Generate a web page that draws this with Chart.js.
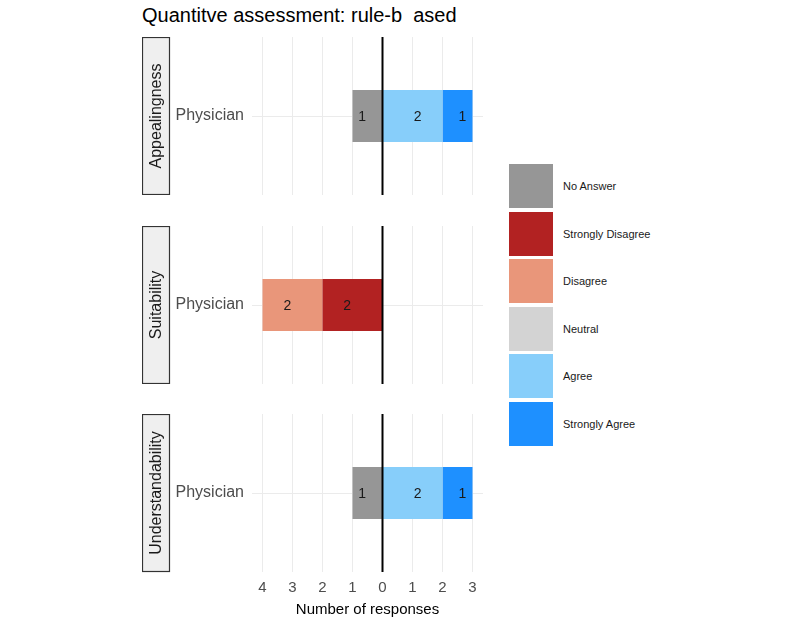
<!DOCTYPE html>
<html>
<head>
<meta charset="utf-8">
<script src="https://cdn.jsdelivr.net/npm/chart.js@4"></script>
<style>
  body { margin: 0; background: #fff; font-family: "Liberation Sans", Arial, sans-serif; }
  #wrap { position: relative; width: 800px; height: 623px; }
  #title { position: absolute; left: 142px; top: 4px; font-size: 20px; color: #000; white-space: pre; }
  canvas { position: absolute; }
  .lg-box { position: absolute; left: 509px; width: 44px; height: 44px; }
  .lg-txt { position: absolute; left: 563px; font-size: 11px; color: #1a1a1a; line-height: 12px; }
</style>
</head>
<body>
<div id="wrap">
  <div id="title">Quantitve assessment: rule-b  ased</div>
  <canvas id="c1"></canvas>
  <canvas id="c2"></canvas>
  <canvas id="c3"></canvas>
</div>
<script>
const facets = ["Appealingness", "Suitability", "Understandability"];
const groups = ["Physician"];
const responses = ["No Answer", "Strongly Disagree", "Disagree", "Neutral", "Agree", "Strongly Agree"];
const colors = ["#969696", "#B22222", "#E9967A", "#D3D3D3", "#87CEFA", "#1E90FF"];
// negative values are drawn left of zero
const appealing = [-1, 0, 0, 0, 2, 1];
const suitability = [0, -2, -2, 0, 0, 0];
const understand = [-1, 0, 0, 0, 2, 1];
const xTicks = [-4, -3, -2, -1, 0, 1, 2, 3];
const facetValues = [appealing, suitability, understand];

// legend
responses.forEach((r, i) => {
  const top = 164 + i * 47.5;
  const b = document.createElement('div');
  b.className = 'lg-box';
  b.style.top = top + 'px';
  b.style.background = colors[i];
  document.getElementById('wrap').appendChild(b);
  const t = document.createElement('div');
  t.className = 'lg-txt';
  t.style.top = (top + 16) + 'px';
  t.textContent = r;
  document.getElementById('wrap').appendChild(t);
});

const panelTops = [37, 226, 414];
const panelH = 158;

const facetPlugin = {
  id: 'facet',
  afterDatasetsDraw(chart, args, opts) {
    const ctx = chart.ctx;
    const area = chart.chartArea;
    const x0 = chart.scales.x.getPixelForValue(0);
    ctx.save();
    // labels in bars
    chart.data.datasets.forEach((ds, i) => {
      const meta = chart.getDatasetMeta(i);
      meta.data.forEach((bar, j) => {
        const v = ds.data[j];
        if (!v) return;
        ctx.fillStyle = '#1a1a1a';
        ctx.font = '14px "Liberation Sans", Arial';
        ctx.textAlign = 'center';
        ctx.textBaseline = 'middle';
        ctx.fillText(Math.abs(v), (bar.x + bar.base) / 2 + Math.sign(v) * 5, bar.y + 1);
      });
    });
    // zero line
    ctx.strokeStyle = '#000';
    ctx.lineWidth = 2;
    ctx.beginPath();
    ctx.moveTo(x0, area.top);
    ctx.lineTo(x0, area.bottom);
    ctx.stroke();
    // strip
    ctx.fillStyle = '#efefef';
    ctx.strokeStyle = '#333';
    ctx.lineWidth = 1.2;
    ctx.fillRect(0.5, area.top + 0.5, 27, area.bottom - area.top - 1);
    ctx.strokeRect(0.5, area.top + 0.5, 27, area.bottom - area.top - 1);
    ctx.translate(14.5, (area.top + area.bottom) / 2);
    ctx.rotate(-Math.PI / 2);
    ctx.fillStyle = '#1a1a1a';
    ctx.font = '16px "Liberation Sans", Arial';
    ctx.textAlign = 'center';
    ctx.textBaseline = 'middle';
    ctx.fillText(opts.label, 0, 0);
    ctx.restore();
  }
};

facetValues.forEach((vals, k) => {
  const last = k === facetValues.length - 1;
  const canvas = document.getElementById('c' + (k + 1));
  const h = last ? 623 - panelTops[k] : panelH;
  canvas.style.left = '142px';
  canvas.style.top = panelTops[k] + 'px';
  canvas.width = 342;
  canvas.height = h;
  canvas.style.width = '342px';
  canvas.style.height = h + 'px';

  new Chart(canvas.getContext('2d'), {
    type: 'bar',
    data: {
      labels: groups,
      datasets: responses.map((r, i) => ({
        label: r,
        data: [vals[i]],
        backgroundColor: colors[i],
        borderWidth: 0,
        categoryPercentage: 1,
        barPercentage: 0.33
      }))
    },
    options: {
      indexAxis: 'y',
      responsive: false,
      animation: false,
      layout: { padding: { left: 0, right: 1, top: 0, bottom: 0 } },
      plugins: {
        legend: { display: false },
        tooltip: { enabled: false },
        facet: { label: facets[k] }
      },
      scales: {
        x: {
          stacked: true,
          min: -4.35,
          max: 3.35,
          afterBuildTicks: (s) => { s.ticks = xTicks.map(v => ({ value: v })); },
          afterFit: (s) => { s.height = last ? h - panelH : 0; },
          grid: { color: '#ebebeb', lineWidth: 1, drawTicks: false },
          border: { display: false },
          ticks: {
            display: last,
            padding: 7,
            color: '#4d4d4d',
            font: { size: 15, family: '"Liberation Sans", Arial' },
            callback: (v) => Math.abs(v)
          },
          title: {
            display: last,
            text: 'Number of responses',
            color: '#000',
            padding: { top: 0 },
            font: { size: 15, family: '"Liberation Sans", Arial' }
          }
        },
        y: {
          stacked: true,
          afterFit: (s) => { s.width = 110; s.paddingTop = 0; s.paddingBottom = 0; },
          grid: { color: '#ebebeb', lineWidth: 1, drawTicks: false, offset: false },
          border: { display: false },
          ticks: {
            padding: 8,
            color: '#4d4d4d',
            font: { size: 16, family: '"Liberation Sans", Arial' }
          }
        }
      }
    },
    plugins: [facetPlugin]
  });
});
</script>
</body>
</html>
